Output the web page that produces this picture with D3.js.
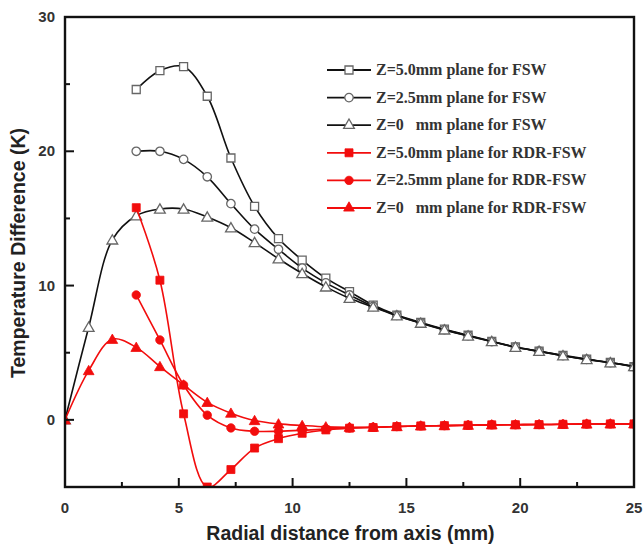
<!DOCTYPE html>
<html>
<head>
<meta charset="utf-8">
<script src="https://cdn.jsdelivr.net/npm/d3@7"></script>
<style>
  body { margin: 0; background: #fff; }
  .tick-label { font-family: "Liberation Sans", Arial, sans-serif; font-weight: bold; font-size: 15px; fill: #333; }
  .axis-title { font-family: "Liberation Sans", Arial, sans-serif; font-weight: bold; font-size: 19.5px; fill: #222; }
  .legend-text { font-family: "Liberation Serif", "Times New Roman", serif; font-weight: bold; font-size: 16px; fill: #333; white-space: pre; }
</style>
</head>
<body>
<div id="chart"></div>
<script>
// radial positions of the sampled points (mm)
var xVals = [0, 1.04, 2.08, 3.13, 4.17, 5.21, 6.25, 7.29, 8.33, 9.38, 10.42, 11.46, 12.5,
             13.54, 14.58, 15.63, 16.67, 17.71, 18.75, 19.79, 20.83, 21.88, 22.92, 23.96, 25]

var fswZ50 = [null, null, null, 24.6, 26.0, 26.3, 24.1, 19.5, 15.9, 13.5, 11.9, 10.55, 9.55,
              8.55, 7.8, 7.25, 6.75, 6.3, 5.85, 5.43, 5.12, 4.8, 4.52, 4.27, 3.97]
var fswZ25 = [null, null, null, 20.0, 20.0, 19.4, 18.1, 16.1, 14.2, 12.7, 11.3, 10.2, 9.3,
              8.45, 7.78, 7.22, 6.72, 6.27, 5.83, 5.42, 5.11, 4.78, 4.5, 4.26, 3.97]
var fswZ0  = [0, 6.9, 13.4, 15.2, 15.7, 15.7, 15.1, 14.3, 13.2, 12.0, 10.9, 9.9, 9.05,
              8.4, 7.75, 7.2, 6.7, 6.25, 5.83, 5.41, 5.1, 4.77, 4.5, 4.25, 3.97]
var rdrZ50 = [null, null, null, 15.8, 10.4, 0.45, -5.0, -3.7, -2.1, -1.4, -1.0, -0.75, -0.62,
              -0.57, -0.5, -0.45, -0.43, -0.4, -0.37, -0.36, -0.35, -0.33, -0.31, -0.3, -0.3]
var rdrZ25 = [null, null, null, 9.3, 5.95, 2.6, 0.35, -0.6, -0.85, -0.85, -0.78, -0.68, -0.6,
              -0.55, -0.5, -0.45, -0.43, -0.4, -0.37, -0.36, -0.35, -0.33, -0.31, -0.3, -0.3]
var rdrZ0  = [0, 3.67, 6.0, 5.4, 3.97, 2.6, 1.3, 0.5, -0.05, -0.3, -0.42, -0.52, -0.55,
              -0.55, -0.5, -0.45, -0.43, -0.4, -0.37, -0.36, -0.35, -0.33, -0.31, -0.3, -0.3]

var seriesNames = ["Z=5.0mm plane for FSW", "Z=2.5mm plane for FSW", "Z=0   mm plane for FSW",
                   "Z=5.0mm plane for RDR-FSW", "Z=2.5mm plane for RDR-FSW", "Z=0   mm plane for RDR-FSW"]
var xTicks = [0, 5, 10, 15, 20, 25]
var yTicks = [0, 10, 20, 30]

var series = [
  {name: seriesNames[0], values: fswZ50, shape: "square",   open: true},
  {name: seriesNames[1], values: fswZ25, shape: "circle",   open: true},
  {name: seriesNames[2], values: fswZ0,  shape: "triangle", open: true},
  {name: seriesNames[3], values: rdrZ50, shape: "square",   open: false},
  {name: seriesNames[4], values: rdrZ25, shape: "circle",   open: false},
  {name: seriesNames[5], values: rdrZ0,  shape: "triangle", open: false}
]

var width = 644, height = 553
var margin = {top: 17, right: 10, bottom: 66, left: 65}
var w = 634 - margin.left, h = 487 - margin.top

var x_scale = d3.scaleLinear().domain([0, 25]).range([0, w])
var y_scale = d3.scaleLinear().domain([-5, 30]).range([h, 0])

var svg = d3.select('#chart').append('svg')
    .attr('width', width).attr('height', height)
var g = svg.append('g').attr('transform', 'translate(' + margin.left + ',' + margin.top + ')')

g.append('clipPath').attr('id', 'clip')
  .append('rect').attr('x', 0).attr('y', 0).attr('width', w).attr('height', h)

var symbols = {square: d3.symbolSquare, circle: d3.symbolCircle, triangle: d3.symbolTriangle}
var sizes = {square: 64, circle: 56, triangle: 50}

function drawMarker(sel, s) {
  sel.attr('d', d3.symbol().type(symbols[s.shape]).size(sizes[s.shape]))
    .attr('fill', s.open ? '#fff' : '#f20d0d')
    .attr('stroke', s.open ? '#666' : '#f20d0d')
    .attr('stroke-width', s.open ? 1.3 : 0.8)
}

var line = d3.line()
    .x(function(d){ return x_scale(d.x) })
    .y(function(d){ return y_scale(d.v) })
    .curve(d3.curveCatmullRom.alpha(0.5))

var plot = g.append('g').attr('clip-path', 'url(#clip)')

series.forEach(function(s) {
  var pts = xVals.map(function(xv, i){ return {x: xv, v: s.values[i]} })
                 .filter(function(d){ return d.v !== null })
  var layer = plot.append('g')
  layer.append('path')
    .datum(pts)
    .attr('d', line)
    .attr('fill', 'none')
    .attr('stroke', s.open ? '#111' : '#f20d0d')
    .attr('stroke-width', 1.6)
  layer.selectAll('.pt')
    .data(pts)
    .enter().append('path')
    .attr('class', 'pt')
    .attr('transform', function(d){ return 'translate(' + x_scale(d.x) + ',' + (y_scale(d.v) + (s.shape === 'triangle' ? 1 : 0)) + ')' })
    .call(drawMarker, s)
})

// frame
g.append('rect').attr('x', 0).attr('y', 0).attr('width', w).attr('height', h)
  .attr('fill', 'none').attr('stroke', '#111').attr('stroke-width', 2.4)

// bottom axis ticks (inward)
var xMinor = d3.range(0, 25.01, 2.5)
g.selectAll('.xtick').data(xMinor).enter().append('line')
  .attr('x1', function(d){ return x_scale(d) }).attr('x2', function(d){ return x_scale(d) })
  .attr('y1', h).attr('y2', function(d){ return xTicks.indexOf(d) >= 0 ? h - 9 : h - 5 })
  .attr('stroke', '#111').attr('stroke-width', 2)
g.selectAll('.xlab').data(xTicks).enter().append('text')
  .attr('class', 'tick-label')
  .attr('x', function(d){ return x_scale(d) }).attr('y', h + 26)
  .attr('text-anchor', 'middle').text(function(d){ return d })

// left axis ticks (inward)
var yMinor = d3.range(-5, 30.01, 5)
g.selectAll('.ytick').data(yMinor.filter(function(d){ return d > -5 && d < 30 })).enter().append('line')
  .attr('y1', function(d){ return y_scale(d) }).attr('y2', function(d){ return y_scale(d) })
  .attr('x1', 0).attr('x2', function(d){ return yTicks.indexOf(d) >= 0 ? 9 : 5 })
  .attr('stroke', '#111').attr('stroke-width', 2)
g.selectAll('.ylab').data(yTicks).enter().append('text')
  .attr('class', 'tick-label')
  .attr('x', -10).attr('y', function(d){ return y_scale(d) + 5 })
  .attr('text-anchor', 'end').text(function(d){ return d })

// axis titles
svg.append('text').attr('class', 'axis-title')
  .attr('x', margin.left + w / 2 + 1).attr('y', 540)
  .attr('text-anchor', 'middle').text('Radial distance from axis (mm)')
svg.append('text').attr('class', 'axis-title')
  .attr('transform', 'translate(25,' + 253 + ') rotate(-90)')
  .attr('text-anchor', 'middle').text('Temperature Difference (K)')

// legend
var legend = svg.append('g').attr('transform', 'translate(327,70)')
var rows = legend.selectAll('.row').data(series).enter().append('g')
  .attr('transform', function(d, i){ return 'translate(0,' + (i * 27.6) + ')' })
rows.append('line').attr('x1', 0).attr('x2', 44).attr('y1', 0).attr('y2', 0)
  .attr('stroke', function(d){ return d.open ? '#111' : '#f20d0d' }).attr('stroke-width', 1.8)
rows.append('path')
  .attr('transform', 'translate(22,0)')
  .each(function(d){ d3.select(this).call(drawMarker, d) })
rows.append('text').attr('class', 'legend-text')
  .attr('x', 49).attr('y', 5)
  .text(function(d){ return d.name })
</script>
</body>
</html>
